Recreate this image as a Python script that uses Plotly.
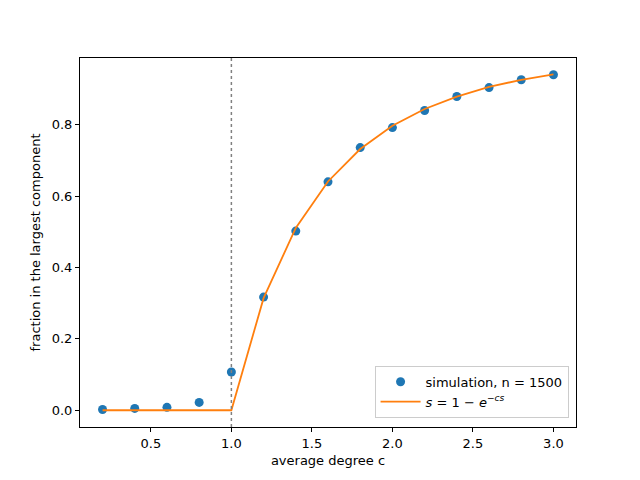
import plotly.graph_objects as go

c_values = [0.2, 0.4, 0.6, 0.8, 1.0, 1.2, 1.4, 1.6, 1.8, 2.0, 2.2, 2.4, 2.6, 2.8, 3.0]
sim_fraction = [0.002, 0.005, 0.008, 0.022, 0.107, 0.317, 0.502, 0.640, 0.736,
                0.792, 0.840, 0.879, 0.904, 0.926, 0.940]
theory_fraction = [0.0, 0.0, 0.0, 0.0, 0.0, 0.314, 0.511, 0.641, 0.732,
                   0.797, 0.844, 0.879, 0.906, 0.926, 0.941]
x_ticks = [0.5, 1.0, 1.5, 2.0, 2.5, 3.0]
y_ticks = [0.0, 0.2, 0.4, 0.6, 0.8]

fig = go.Figure()
fig.add_trace(go.Scatter(
    x=c_values, y=sim_fraction, mode="markers",
    marker=dict(color="#1f77b4", size=9),
    name="simulation, n = 1500",
))
fig.add_trace(go.Scatter(
    x=c_values, y=theory_fraction, mode="lines",
    line=dict(color="#ff7f0e", width=1.8),
    name="<i>s</i> = 1 − <i>e</i><sup>−<i>cs</i></sup>",
))
fig.add_vline(x=1.0, line=dict(color="gray", width=1.5, dash="dot"))

axis_style = dict(
    showline=True, linecolor="black", linewidth=1, mirror=True,
    ticks="outside", ticklen=4, tickcolor="black", showgrid=False,
    zeroline=False, tickfont=dict(size=13), automargin=False,
)
fig.update_xaxes(range=[0.06, 3.14], tickvals=x_ticks,
                 ticktext=[f"{v:.1f}" for v in x_ticks],
                 title=dict(text="average degree c", font=dict(size=13), standoff=6),
                 **axis_style)
fig.update_yaxes(range=[-0.047, 0.987], tickvals=y_ticks,
                 ticktext=[f"{v:.1f}" for v in y_ticks],
                 title=dict(text="fraction in the largest component", font=dict(size=13), standoff=8),
                 **axis_style)
# the page adds an 8px body margin, so margins are pulled in by 8px
fig.update_layout(
    width=640, height=480,
    margin=dict(l=72, r=72, t=50, b=61),
    paper_bgcolor="white", plot_bgcolor="white",
    font=dict(family="DejaVu Sans", size=13, color="black"),
    legend=dict(x=0.985, y=0.025, xanchor="right", yanchor="bottom",
                bordercolor="#cccccc", borderwidth=1, bgcolor="rgba(255,255,255,0.8)",
                font=dict(size=13), itemwidth=40),
)
fig.write_html("out.html")
